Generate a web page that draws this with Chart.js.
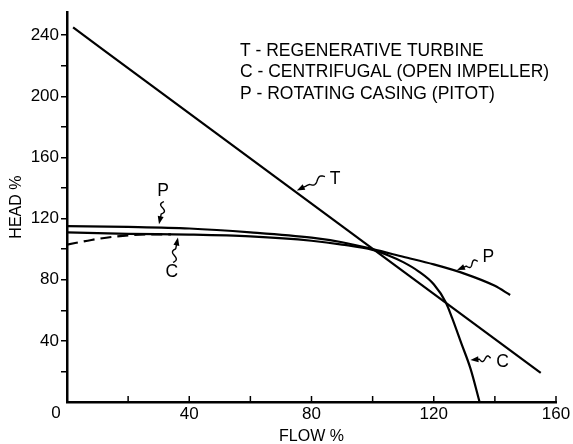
<!DOCTYPE html>
<html>
<head>
<meta charset="utf-8">
<script src="https://cdn.jsdelivr.net/npm/chart.js"></script>
<style>
  body { margin: 0; background: #fff; }
  canvas { display: block; }
</style>
</head>
<body>
<canvas id="myChart" width="573" height="444"></canvas>
<script>
const ctx = document.getElementById('myChart');

// regenerative turbine (straight line)
const tFlow = [2, 155];
const tHead = [245, 19];

// rotating casing (pitot)
const pFlow = [0, 20, 40, 60, 80, 90, 100, 110, 120, 130, 140, 145];
const pHead = [115, 114.5, 113.5, 111, 107.5, 104.5, 100, 95, 90, 84, 76, 70];

// centrifugal (open impeller)
const cFlow = [0, 20, 40, 60, 80, 90, 100, 105, 110, 115, 120, 124, 126, 129, 132, 135];
const cHead = [111, 110, 109.5, 108.3, 105.5, 103, 99.5, 96, 91.5, 85.5, 77, 65, 55, 38.5, 22, 0];

// dashed start of C
const cDashFlow = [0, 8, 16, 26, 34];
const cDashHead = [103, 106, 108.3, 109.6, 109.7];

const legendLines = [
    'T - REGENERATIVE TURBINE',
    'C - CENTRIFUGAL (OPEN IMPELLER)',
    'P - ROTATING CASING (PITOT)'
];

// label, text pos, squiggle start, arrow tip (data units)
const callouts = [
    ['T', [87.7, 146], [84.4, 147.4], [75.2, 138.3]],
    ['P', [31.4, 138], [31.7, 131.1], [30.1, 116.3]],
    ['C', [34.3, 84.8], [34.7, 91.3], [36.3, 107.6]],
    ['P', [137.9, 94.6], [134.4, 92], [127.6, 86.3]],
    ['C', [142.5, 26], [138.6, 28.6], [132.0, 27.5]]
];

const FONT = '"Liberation Sans", Arial, Helvetica, sans-serif';

const toPts = (xs, ys) => xs.map((x, i) => ({x: x, y: ys[i]}));

const squiggle = (c, sx, sy, tx, ty) => {
    const dx = tx - sx, dy = ty - sy, len = Math.hypot(dx, dy);
    const ux = dx / len, uy = dy / len, nx = -uy, ny = ux;
    const waveLen = len * 0.55;
    c.beginPath();
    for (let i = 0; i <= 40; i++) {
        const t = i / 40 * (len - 5);
        const w = t < waveLen ? Math.sin(t / waveLen * Math.PI * 2) * 2.6 : 0;
        const x = sx + ux * t + nx * w, y = sy + uy * t + ny * w;
        if (i) c.lineTo(x, y); else c.moveTo(x, y);
    }
    c.stroke();
    c.beginPath();
    c.moveTo(tx, ty);
    c.lineTo(tx - ux * 8 + nx * 3, ty - uy * 8 + ny * 3);
    c.lineTo(tx - ux * 8 - nx * 3, ty - uy * 8 - ny * 3);
    c.closePath();
    c.fill();
}

const extras = {
    id: 'extras',
    afterDraw(chart) {
        const c = chart.ctx;
        const xs = chart.scales.x, ys = chart.scales.y;
        c.save();
        c.strokeStyle = '#000';
        c.fillStyle = '#000';

        // inward ticks on the flow axis
        c.lineWidth = 1.5;
        for (let v = 20; v <= 160; v += 20) {
            const px = xs.getPixelForValue(v);
            c.beginPath();
            c.moveTo(px, chart.chartArea.bottom);
            c.lineTo(px, chart.chartArea.bottom - 6);
            c.stroke();
        }

        // corner zero
        c.font = '17px ' + FONT;
        c.textAlign = 'center';
        c.textBaseline = 'middle';
        c.fillText('0', xs.getPixelForValue(0) - 11, chart.chartArea.bottom + 11);

        // legend block
        c.font = '17.5px ' + FONT;
        c.textAlign = 'left';
        c.textBaseline = 'alphabetic';
        legendLines.forEach((line, i) => {
            c.fillText(line, xs.getPixelForValue(56.6), ys.getPixelForValue(226.4 - i * 14));
        });

        // callouts
        c.lineWidth = 1.4;
        c.textAlign = 'center';
        c.textBaseline = 'middle';
        callouts.forEach(([label, txt, st, tip]) => {
            c.fillText(label, xs.getPixelForValue(txt[0]), ys.getPixelForValue(txt[1]));
            squiggle(c, xs.getPixelForValue(st[0]), ys.getPixelForValue(st[1]),
                xs.getPixelForValue(tip[0]), ys.getPixelForValue(tip[1]));
        });
        c.restore();
    }
};

const lineStyle = {
    borderColor: '#000',
    borderWidth: 2.2,
    pointRadius: 0,
    fill: false,
    cubicInterpolationMode: 'monotone'
};

new Chart(ctx, {
    type: 'line',
    data: {
        datasets: [
            {label: 'T', data: toPts(tFlow, tHead), ...lineStyle},
            {label: 'P', data: toPts(pFlow, pHead), ...lineStyle},
            {label: 'C', data: toPts(cFlow, cHead), ...lineStyle},
            {label: 'C dashed', data: toPts(cDashFlow, cDashHead), ...lineStyle, borderDash: [11, 6]}
        ]
    },
    options: {
        responsive: false,
        animation: false,
        layout: {padding: {top: 10, right: 17, left: 0, bottom: 0}},
        plugins: {legend: {display: false}, tooltip: {enabled: false}},
        scales: {
            x: {
                type: 'linear',
                min: 0,
                max: 160,
                afterFit: scale => { scale.height = 42; },
                grid: {display: false, drawTicks: false},
                border: {display: true, color: '#000', width: 2.5},
                ticks: {
                    stepSize: 20,
                    autoSkip: false,
                    maxRotation: 0,
                    padding: 2,
                    color: '#000',
                    font: {family: FONT, size: 17},
                    callback: v => (v % 40 === 0 && v !== 0) ? v : ''
                },
                title: {
                    display: true,
                    text: 'FLOW %',
                    color: '#000',
                    font: {family: FONT, size: 16, lineHeight: 1},
                    padding: {top: 0, bottom: -1}
                }
            },
            y: {
                min: 0,
                max: 255,
                afterFit: scale => { scale.width = 67; },
                grid: {
                    drawOnChartArea: false,
                    tickLength: 6,
                    lineWidth: 1.5,
                    color: c => c.tick && c.tick.value === 0 ? 'rgba(0,0,0,0)' : '#000'
                },
                border: {display: true, color: '#000', width: 2.5},
                ticks: {
                    stepSize: 20,
                    includeBounds: false,
                    autoSkip: false,
                    padding: 2,
                    color: '#000',
                    font: {family: FONT, size: 17},
                    callback: v => (v % 40 === 0 && v !== 0) ? v : ''
                },
                title: {
                    display: true,
                    text: 'HEAD %',
                    color: '#000',
                    font: {family: FONT, size: 16, lineHeight: 1},
                    padding: {top: 9, bottom: 0}
                }
            }
        }
    },
    plugins: [extras]
});
</script>
</body>
</html>
